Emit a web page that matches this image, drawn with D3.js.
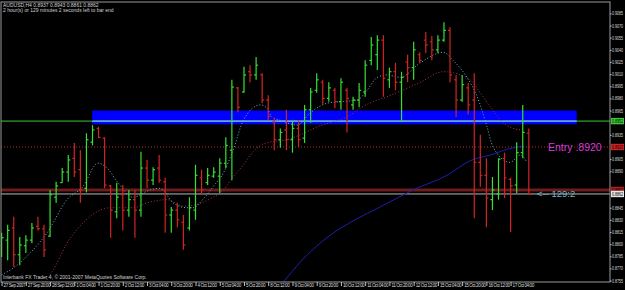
<!DOCTYPE html>
<html>
<head>
<meta charset="utf-8">
<script src="https://cdnjs.cloudflare.com/ajax/libs/d3/7.8.5/d3.min.js"></script>
<style>
    html, body { margin: 0; padding: 0; background: #000; }
    svg { display: block; }
    text { font-family: "Liberation Sans", Arial, sans-serif; }
</style>
</head>
<body>
<div id="chart"></div>
<script>

// AUDUSD H4 bars, 27 Sep 2007 04:00 .. 17 Oct 2007 16:00
var opens = [.8793, .8805, .8820, .8787, .8798, .8805, .8822, .8819, .8810, .8858,
    .8876, .8889, .8906, .8892, .8869, .8926, .8943, .8931, .8872, .8840,
    .8861, .8842, .8855, .8842, .8894, .8879, .8894, .8877, .8836, .8842,
    .8827, .8820, .8842, .8882, .8876, .8884, .8884, .8900, .8916, .8993,
    .8988, .9013, .9009, .9009, .8978, .8951, .8929, .8941, .8929, .8943,
    .8931, .8966, .8990, .9000, .8980, .8990, .8976, .8990, .8972, .8978,
    .8988, .9027, .9034, .9052, .9003, .9013, .9000, .9025, .9018, .9034,
    .9052, .9050, .9040, .9052, .9064, .9003, .8978, .8993, .8978, .8901,
    .8885, .8855, .8862, .8906, .8880, .8873, .8913, .8937];
var highs = [.8814, .8824, .8834, .8809, .8811, .8826, .8834, .8824, .8867, .8877,
    .8894, .8910, .8925, .8916, .8937, .8947, .8945, .8932, .8873, .8876,
    .8873, .8867, .8867, .8914, .8904, .8895, .8910, .8882, .8846, .8851,
    .8836, .8858, .8898, .8892, .8894, .8895, .8906, .8932, .9003, .8994,
    .9019, .9021, .9031, .9011, .8984, .8956, .8943, .8966, .8951, .8953,
    .8972, .8993, .9011, .9003, .9000, .8993, .9005, .8993, .8982, .8999,
    .9027, .9056, .9058, .9058, .9018, .9024, .9013, .9034, .9050, .9037,
    .9062, .9057, .9058, .9074, .9068, .9009, .9009, .8999, .9011, .8935,
    .8906, .8883, .8906, .8913, .8882, .8926, .8972, .8943];
var lows = [.8784, .8780, .8772, .8774, .8789, .8801, .8817, .8784, .8809, .8851,
    .8876, .8877, .8883, .8851, .8864, .8922, .8931, .8869, .8808, .8832,
    .8817, .8834, .8808, .8834, .8869, .8873, .8876, .8814, .8814, .8821,
    .8793, .8817, .8830, .8861, .8873, .8882, .8863, .8894, .8879, .8963,
    .8987, .9000, .9003, .8974, .8953, .8916, .8919, .8916, .8913, .8920,
    .8925, .8950, .8987, .8972, .8976, .8968, .8966, .8938, .8966, .8969,
    .8982, .9021, .9015, .8982, .8993, .8990, .8951, .9000, .9003, .9024,
    .9036, .9027, .9036, .9050, .9000, .8957, .8976, .8960, .8832, .8871,
    .8821, .8842, .8855, .8857, .8815, .8863, .8906, .8861];
var closes = [.8808, .8817, .8787, .8799, .8805, .8820, .8819, .8793, .8861, .8872,
    .8889, .8904, .8889, .8867, .8929, .8941, .8932, .8873, .8842, .8858,
    .8842, .8855, .8842, .8894, .8879, .8892, .8879, .8836, .8842, .8830,
    .8799, .8845, .8885, .8867, .8885, .8889, .8900, .8922, .8994, .8969,
    .9009, .9009, .9021, .8978, .8958, .8929, .8938, .8929, .8943, .8929,
    .8966, .8988, .9003, .8980, .8993, .8976, .9000, .8980, .8978, .8990,
    .9021, .9046, .9052, .9005, .9013, .9000, .9006, .9018, .9040, .9027,
    .9046, .9040, .9052, .9064, .9009, .8978, .8997, .8972, .8901, .8885,
    .8857, .8867, .8905, .8882, .8872, .8913, .8938, .8862];

// moving averages: [bar, price]
var maFast = [[0, .8762], [2.2, .8772], [5.2, .8793], [7.5, .8814], [10.8, .8855], [13.4, .8871],
    [15.9, .8900], [17.4, .8894], [19.1, .8877], [21.7, .8858], [24.5, .8867], [26.2, .8869],
    [28.3, .8851], [30.6, .8845], [31.6, .8845], [33.3, .8856], [34.9, .8871], [36.6, .8888],
    [38.2, .8916], [39.9, .8953], [42.7, .8972], [43.8, .8968], [44.6, .8957], [46, .8953],
    [48.8, .8947], [50.9, .8962], [53.7, .8974], [55.9, .8976], [58.7, .8978], [60.3, .8990],
    [62, .9006], [63.6, .9009], [65.8, .9006], [69.1, .9024], [72.9, .9037], [74.5, .9027],
    [76.8, .9006], [78.5, .8982], [80.1, .8945], [81.1, .8920], [83.9, .8901], [85.6, .8910],
    [86.7, .8901]];
var maSlow = [[7.2, .8753], [8.5, .8768], [10.8, .8801], [13.4, .8826], [16.3, .8842], [17.9, .8845],
    [21.7, .8845], [24, .8851], [27.3, .8855], [30, .8847], [31.6, .8848], [33.3, .8852],
    [34.9, .8858], [36.6, .8867], [38.2, .8883], [39.9, .8898], [41.5, .8914], [42.7, .8922],
    [44.3, .8926], [47.1, .8929], [49.3, .8935], [52.1, .8945], [54.7, .8951], [57, .8957],
    [59.2, .8968], [61.3, .8976], [63.6, .8982], [65.8, .8989], [69.1, .9000], [72.9, .9013],
    [75.7, .9009], [77.3, .9003], [79, .8987], [80.6, .8970], [82.8, .8950], [84.4, .8943],
    [86, .8941]];
var maLong = [[46.5, .8753], [49.3, .8778], [54.2, .8811], [58.3, .8830], [62.5, .8846],
    [67.9, .8867], [73.5, .8885], [77.3, .8903], [80.6, .8910], [84.4, .8919], [86.2, .8921]];

var timeLabels = ["27 Sep 2007", "27 Sep 20:00", "28 Sep 12:00", "1 Oct 04:00", "1 Oct 20:00",
    "2 Oct 12:00", "3 Oct 04:00", "3 Oct 20:00", "4 Oct 12:00", "5 Oct 04:00", "5 Oct 20:00",
    "8 Oct 12:00", "9 Oct 04:00", "9 Oct 20:00", "10 Oct 12:00", "11 Oct 04:00", "11 Oct 20:00",
    "12 Oct 12:00", "15 Oct 04:00", "15 Oct 20:00", "16 Oct 12:00", "17 Oct 04:00"];
var timeTickBars = [0, 4, 8, 12, 16, 20, 24, 28, 32, 36, 40, 44, 48, 52, 56, 60, 64, 68, 72, 76, 80, 84];
var priceTicks = [0.9085, 0.9070, 0.9055, 0.9040, 0.9025, 0.9010, 0.8995, 0.8980, 0.8965, 0.8950,
    0.8935, 0.8920, 0.8905, 0.8890, 0.8875, 0.8860, 0.8845, 0.8830, 0.8815, 0.8800,
    0.8785, 0.8770, 0.8755];

// objects on the chart
var zoneBars = [14.95, 94.9];
var zonePrices = [0.8965, 0.8948];
var entryPrice = 0.8920;
var greenLevel = 0.8952;
var stopLevel = 0.8867;
var bidPrice = 0.8862;

var W = 625, H = 290;
var plotL = 1, plotR = 610, plotT = 2, plotB = 282;

var x = d3.scaleLinear().domain([0, 87]).range([1.6, 528.8]);
var y = d3.scaleLinear().domain([0.8755, 0.9085]).range([280.6, 13.4]);

var svg = d3.select("#chart").append("svg")
    .attr("width", W).attr("height", H)
    .style("background", "#000");

svg.append("defs").append("clipPath").attr("id", "plot")
    .append("rect").attr("x", plotL).attr("y", plotT)
    .attr("width", plotR - plotL).attr("height", plotB - plotT);

var g = svg.append("g").attr("clip-path", "url(#plot)");

// blue zone
g.append("rect")
    .attr("x", x(zoneBars[0])).attr("y", y(zonePrices[0]))
    .attr("width", x(zoneBars[1]) - x(zoneBars[0]))
    .attr("height", y(zonePrices[1]) - y(zonePrices[0]))
    .attr("fill", "#0000ff");

// horizontal lines
g.append("line").attr("x1", plotL).attr("x2", plotR)
    .attr("y1", y(greenLevel)).attr("y2", y(greenLevel))
    .attr("stroke", "#3cc83c").attr("stroke-width", 1);
g.append("line").attr("x1", x(zoneBars[0])).attr("x2", x(zoneBars[1]))
    .attr("y1", y(greenLevel)).attr("y2", y(greenLevel))
    .attr("stroke", "#8fd0ff").attr("stroke-width", 1);
g.append("line").attr("x1", plotL).attr("x2", plotR)
    .attr("y1", y(entryPrice)).attr("y2", y(entryPrice))
    .attr("stroke", "#b82828").attr("stroke-width", 1).attr("stroke-dasharray", "1,2");
g.append("line").attr("x1", plotL).attr("x2", plotR)
    .attr("y1", y(stopLevel)).attr("y2", y(stopLevel))
    .attr("stroke", "#6e1c1c").attr("stroke-width", 3);
g.append("line").attr("x1", plotL).attr("x2", plotR)
    .attr("y1", y(bidPrice)).attr("y2", y(bidPrice))
    .attr("stroke", "#b8b8b8").attr("stroke-width", 1);

// moving averages
var maLine = d3.line()
    .x(function (d) { return x(d[0]); })
    .y(function (d) { return y(d[1]); })
    .curve(d3.curveMonotoneX);

g.append("path").datum(maLong).attr("d", maLine)
    .attr("fill", "none").attr("stroke", "#1e1eb0").attr("stroke-width", 1);
g.append("path").datum(maSlow).attr("d", maLine)
    .attr("fill", "none").attr("stroke", "#a8344a").attr("stroke-width", 1)
    .attr("stroke-dasharray", "1,2");
g.append("path").datum(maFast).attr("d", maLine)
    .attr("fill", "none").attr("stroke", "#6fb4cc").attr("stroke-width", 1)
    .attr("stroke-dasharray", "1,2");

// OHLC bars
var bars = g.append("g").selectAll("g")
    .data(opens.map(function (o, i) {
        return { i: i, o: o, h: highs[i], l: lows[i], c: closes[i] };
    }))
    .enter().append("g")
    .attr("stroke", function (d) { return d.c >= d.o ? "#35e035" : "#d22424"; })
    .attr("stroke-width", 1.2);
bars.append("line")
    .attr("x1", function (d) { return x(d.i); }).attr("x2", function (d) { return x(d.i); })
    .attr("y1", function (d) { return y(d.h); }).attr("y2", function (d) { return y(d.l); });
bars.append("line")
    .attr("x1", function (d) { return x(d.i) - 2; }).attr("x2", function (d) { return x(d.i); })
    .attr("y1", function (d) { return y(d.o); }).attr("y2", function (d) { return y(d.o); });
bars.append("line")
    .attr("x1", function (d) { return x(d.i); }).attr("x2", function (d) { return x(d.i) + 2; })
    .attr("y1", function (d) { return y(d.c); }).attr("y2", function (d) { return y(d.c); });

// chart texts
g.append("text").attr("x", 548).attr("y", y(entryPrice) + 4)
    .attr("fill", "#d83cd8").attr("font-size", "10.5px").text("Entry .8920");
g.append("text").attr("x", 537).attr("y", y(bidPrice) + 3.5)
    .attr("fill", "#74b4c8").attr("font-size", "9.5px").text("<-- 129:2");

var last = opens.length - 1;
svg.append("text").attr("x", 3).attr("y", 7)
    .attr("fill", "#d0d0d0").attr("font-size", "5px")
    .text("AUDUSD,H4  " + opens[last].toFixed(4) + " " + highs[last].toFixed(4) + " " +
        lows[last].toFixed(4) + " " + closes[last].toFixed(4));
svg.append("text").attr("x", 3).attr("y", 12)
    .attr("fill", "#d0d0d0").attr("font-size", "5px")
    .text("2 hour(s) or 129 minutes 2 seconds left to bar end");
svg.append("text").attr("x", 3).attr("y", 279)
    .attr("fill", "#d0d0d0").attr("font-size", "5px")
    .text("Interbank FX Trader 4, \u00a9 2001-2007 MetaQuotes Software Corp.");

// frame
svg.append("rect").attr("x", plotL).attr("y", plotT)
    .attr("width", plotR - plotL).attr("height", plotB - plotT)
    .attr("fill", "none").attr("stroke", "#9a9a9a").attr("stroke-width", 1);

// price axis, without the ticks hidden under the object labels
var tagPrices = [greenLevel, entryPrice, stopLevel, bidPrice];
var tagFills = ["#3cc83c", "#d02222", "#b01c1c", "#e6e6e6"];
var freeTicks = priceTicks.filter(function (p) {
    return tagPrices.every(function (t) { return Math.abs(y(p) - y(t)) > 7; });
});
var yAxis = svg.append("g").attr("transform", "translate(" + plotR + ",0)")
    .call(d3.axisRight(y).tickValues(freeTicks).tickFormat(d3.format(".4f"))
        .tickSize(1.5).tickPadding(0.5));
yAxis.select(".domain").remove();
yAxis.selectAll("line").attr("stroke", "#c0c0c0");
yAxis.selectAll("text").attr("fill", "#d8d8d8").attr("font-size", "4.6px")
    .attr("textLength", 11).attr("lengthAdjust", "spacingAndGlyphs")
    .attr("font-family", "Liberation Sans, Arial, sans-serif");

// time axis
var xAxis = svg.append("g").attr("transform", "translate(0," + plotB + ")")
    .call(d3.axisBottom(x).tickValues(timeTickBars)
        .tickFormat(function (d, i) { return timeLabels[i]; })
        .tickSize(4).tickPadding(1));
xAxis.select(".domain").remove();
xAxis.selectAll("line").attr("stroke", "#c0c0c0");
xAxis.selectAll("text").attr("fill", "#d8d8d8").attr("font-size", "4.6px")
    .attr("text-anchor", "start").attr("x", 1.5).attr("y", 2).attr("dy", "0.71em")
    .attr("letter-spacing", "-0.42px")
    .attr("font-family", "Liberation Sans, Arial, sans-serif");

// price labels of the objects
var tags = svg.append("g").selectAll("g").data(tagPrices).enter().append("g")
    .attr("transform", function (d) { return "translate(" + (plotR + 1) + "," + y(d) + ")"; });
tags.append("rect").attr("x", 0).attr("y", -3.2).attr("width", 13).attr("height", 6.4)
    .attr("fill", function (d, i) { return tagFills[i]; });
tags.append("text").attr("x", 1).attr("y", 1.7).attr("font-size", "4.6px")
    .attr("textLength", 11).attr("lengthAdjust", "spacingAndGlyphs")
    .attr("fill", "#000").text(function (d) { return d.toFixed(4); });

</script>
</body>
</html>
